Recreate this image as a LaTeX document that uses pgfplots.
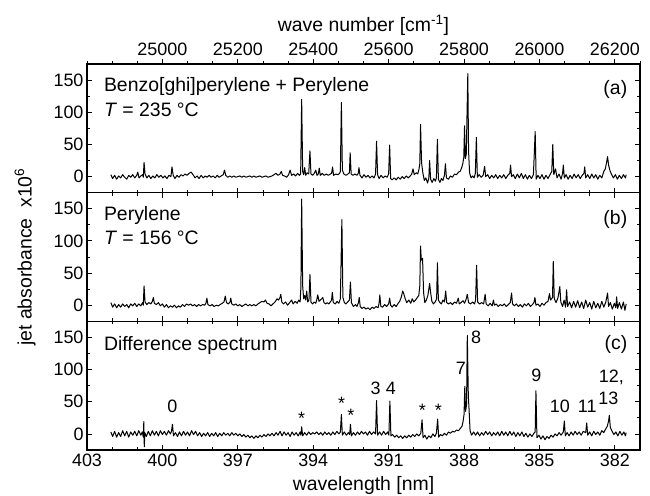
\documentclass[border=0pt]{standalone}
\usepackage{pgfplots}
\pgfplotsset{compat=1.18}
\usepackage{fontspec}
\setmainfont{Liberation Sans}

\pgfplotsset{
  panel/.style={
    scale only axis, width=553bp, height=128.7bp,
    xmin=381, xmax=403, x dir=reverse,
    ymin=-25, ymax=175,
    xtick={382,385,...,403}, minor xtick={381,...,403},
    ytick={0,50,100,150}, minor ytick={25,75,125},
    tick align=inside,
    major tick length=5bp, minor tick length=3bp,
    tick style={black, line width=0.8bp},
    axis line style={line width=1.3bp},
    /pgf/number format/assume math mode=true,
    tick label style={font=\fontsize{18}{20}\selectfont},
    label style={font=\fontsize{19.5}{22}\selectfont},
    clip=false,
  },
  spec/.style={black, line width=1bp, line join=round, mark=none},
}
\newcommand{\lab}{\fontsize{19.5}{22}\selectfont}
\newcommand{\ann}{\fontsize{18}{20}\selectfont}

\begin{document}
\begin{tikzpicture}
\useasboundingbox (0,0) rectangle (650bp,496bp);

% ---------- panel (a) ----------
\begin{axis}[panel, at={(87bp,303.3bp)}, anchor=south west,
  xticklabel=\empty, xtick pos=lower]
\addplot[spec] coordinates {
(402.05,3)(401.98,-3)(401.9,2)(401.82,-4)(401.74,1)(401.66,-2)(401.58,3)(401.5,-1)(401.42,-4)(401.34,2)(401.26,-1)(401.18,3)(401.1,-2)(401.02,2)(400.98,7)(400.93,-2)(400.86,1)(400.79,3)(400.76,-1)(400.73,22)(400.69,4)(400.62,-2)(400.54,2)(400.46,-3)(400.38,1)(400.3,-2)(400.22,3)(400.14,-1)(400.06,2)(399.98,-2)(399.9,1)(399.82,-3)(399.74,2)(399.66,0)(399.62,15)(399.57,2)(399.5,-3)(399.42,2)(399.34,-1)(399.26,3)(399.18,1)(399.1,4)(399.02,2)(398.94,5)(398.86,7)(398.78,3)(398.7,-2)(398.62,1)(398.54,-3)(398.46,2)(398.38,-2)(398.3,1)(398.22,-1)(398.14,2)(398.06,-1)(397.98,1)(397.9,-2)(397.82,2)(397.74,-1)(397.66,1)(397.58,3)(397.53,10)(397.48,2)(397.4,-1)(397.32,1)(397.24,-1)(397.16,1)(397.08,-1)(397,0)(396.92,1)(396.84,-1)(396.76,1)(396.68,-1)(396.6,0)(396.52,1)(396.44,-1)(396.36,1)(396.28,-1)(396.2,0)(396.12,1)(396.04,-1)(395.96,0)(395.88,1)(395.8,-1)(395.72,0)(395.64,1)(395.56,3)(395.48,5)(395.4,2)(395.32,4)(395.27,8)(395.22,2)(395.14,1)(395.06,-1)(394.98,3)(394.92,10)(394.86,2)(394.78,4)(394.7,1)(394.62,5)(394.55,2)(394.5,4)(394.46,120)(394.42,8)(394.38,3)(394.34,14)(394.3,2)(394.24,6)(394.18,4)(394.13,40)(394.09,4)(394.02,2)(393.96,5)(393.9,10)(393.85,2)(393.8,4)(393.76,13)(393.72,2)(393.64,5)(393.56,2)(393.48,4)(393.4,2)(393.32,4)(393.27,5)(393.23,15)(393.19,2)(393.1,4)(393.02,3)(392.95,5)(392.92,8)(392.88,115)(392.84,10)(392.78,4)(392.7,2)(392.62,4)(392.56,6)(392.53,37)(392.49,4)(392.42,2)(392.34,4)(392.26,2)(392.21,5)(392.18,14)(392.14,2)(392.06,-2)(391.98,3)(391.9,-1)(391.82,2)(391.74,-2)(391.66,1)(391.58,-2)(391.52,4)(391.48,55)(391.44,3)(391.38,-3)(391.3,2)(391.22,-2)(391.14,1)(391.06,-1)(391,4)(390.96,49)(390.92,-3)(390.86,-5)(390.78,-2)(390.7,-5)(390.62,-1)(390.54,-4)(390.46,0)(390.38,-3)(390.3,1)(390.22,-2)(390.14,1)(390.08,4)(390.03,12)(389.98,3)(389.9,6)(389.84,4)(389.79,12)(389.76,20)(389.73,81)(389.69,22)(389.64,6)(389.58,-6)(389.52,-2)(389.45,-10)(389.4,-2)(389.37,25)(389.33,-4)(389.27,-9)(389.2,-3)(389.14,-7)(389.1,-2)(389.06,58)(389.02,-4)(388.96,-9)(388.9,-3)(388.84,-6)(388.78,2)(388.74,20)(388.7,-2)(388.62,-4)(388.54,1)(388.46,-1)(388.38,4)(388.3,3)(388.22,7)(388.16,8)(388.1,13)(388.05,20)(388.01,30)(387.98,79)(387.95,28)(387.91,35)(387.88,100)(387.85,160)(387.82,40)(387.78,6)(387.72,-2)(387.66,1)(387.6,-2)(387.55,5)(387.51,61)(387.47,-1)(387.4,3)(387.32,-1)(387.24,2)(387.18,16)(387.14,0)(387.06,3)(386.98,-3)(386.9,2)(386.82,-2)(386.74,3)(386.66,-3)(386.58,2)(386.5,-2)(386.42,3)(386.34,-3)(386.26,2)(386.18,5)(386.15,18)(386.11,0)(386.04,3)(385.96,-3)(385.88,4)(385.8,-2)(385.72,5)(385.64,-3)(385.56,3)(385.48,-4)(385.4,2)(385.32,-3)(385.24,3)(385.17,70)(385.13,-4)(385.06,2)(384.98,-3)(384.9,3)(384.82,-4)(384.74,2)(384.66,-3)(384.58,3)(384.51,8)(384.47,50)(384.43,3)(384.36,12)(384.3,-2)(384.22,4)(384.14,-4)(384.08,5)(384.05,18)(384.01,-2)(383.94,3)(383.86,-4)(383.78,2)(383.7,-3)(383.62,4)(383.54,-2)(383.46,3)(383.38,-3)(383.3,2)(383.23,5)(383.2,15)(383.16,-2)(383.08,3)(383,-3)(382.92,4)(382.84,-2)(382.76,3)(382.68,-4)(382.6,2)(382.52,-2)(382.44,8)(382.38,12)(382.33,22)(382.29,31)(382.25,18)(382.2,10)(382.14,4)(382.06,-2)(381.98,3)(381.9,-4)(381.82,2)(381.74,-3)(381.66,3)(381.58,-2)(381.55,3)
};
\node[anchor=base west, inner sep=0, font=\lab] at (axis cs:402.33,132) {Benzo[ghi]perylene + Perylene};
\node[anchor=base west, inner sep=0, font=\lab] at (axis cs:402.33,94) {\textit{T} = 235 °C};
\node[anchor=base east, inner sep=0, font=\lab] at (axis cs:381.5,127) {(a)};
\end{axis}

% top wave-number axis (same geometry as panel a)
\begin{axis}[panel, at={(87bp,303.3bp)}, anchor=south west,
  hide y axis, xtick pos=upper, xticklabel pos=upper, tick align=outside,
  xtick={382,385,388,391,394,397,400},
  xticklabels={26200,26000,25800,25600,25400,25200,25000},
  xlabel={wave number [cm\textsuperscript{-1}]}]
\addplot[draw=none] coordinates {(390,0)};
\end{axis}

% ---------- panel (b) ----------
\begin{axis}[panel, at={(87bp,174.7bp)}, anchor=south west,
  xticklabel=\empty,
  ylabel={jet absorbance\ \ x10\textsuperscript{6}},
  ylabel style={at={(axis description cs:-0.112,0.5)}, anchor=center}]
\addplot[spec] coordinates {
(402.05,4)(401.98,-3)(401.9,2)(401.82,-4)(401.74,1)(401.66,-3)(401.58,2)(401.5,-2)(401.42,1)(401.34,-4)(401.26,2)(401.18,-1)(401.1,3)(401.02,-2)(400.94,2)(400.86,-1)(400.79,4)(400.76,0)(400.73,30)(400.69,5)(400.62,1)(400.54,4)(400.46,2)(400.4,6)(400.36,12)(400.32,3)(400.24,1)(400.16,4)(400.08,-1)(400,2)(399.92,-3)(399.84,1)(399.76,-4)(399.68,-1)(399.6,-3)(399.52,0)(399.44,-4)(399.36,-1)(399.28,-3)(399.2,1)(399.12,-2)(399.04,2)(398.96,0)(398.88,2)(398.8,-1)(398.72,1)(398.64,-2)(398.56,1)(398.48,-1)(398.4,1)(398.32,0)(398.27,3)(398.23,11)(398.19,1)(398.1,-1)(398.02,1)(397.94,-2)(397.86,0)(397.78,-1)(397.7,1)(397.62,3)(397.55,5)(397.5,14)(397.45,4)(397.38,2)(397.31,5)(397.28,11)(397.24,2)(397.16,0)(397.08,2)(397,-1)(396.92,1)(396.84,-2)(396.76,0)(396.68,2)(396.6,-1)(396.52,1)(396.44,-1)(396.36,1)(396.28,-1)(396.2,2)(396.12,4)(396.04,6)(395.96,5)(395.9,8)(395.84,3)(395.76,2)(395.68,-1)(395.6,2)(395.52,5)(395.44,10)(395.38,8)(395.32,12)(395.29,17)(395.25,5)(395.18,2)(395.1,5)(395.02,0)(394.94,4)(394.86,8)(394.8,2)(394.72,6)(394.64,3)(394.58,8)(394.52,5)(394.49,28)(394.46,165)(394.42,30)(394.38,10)(394.34,15)(394.3,8)(394.26,22)(394.22,5)(394.17,8)(394.13,48)(394.09,5)(394.03,2)(393.96,5)(393.9,3)(393.86,8)(393.82,16)(393.77,6)(393.72,8)(393.66,10)(393.62,12)(393.57,4)(393.5,2)(393.44,4)(393.38,2)(393.32,5)(393.27,8)(393.24,20)(393.2,4)(393.12,2)(393.05,6)(392.98,3)(392.92,10)(392.86,133)(392.82,12)(392.76,4)(392.7,2)(392.63,5)(392.56,8)(392.52,36)(392.48,4)(392.4,-2)(392.32,1)(392.26,-2)(392.2,4)(392.17,12)(392.13,-2)(392.06,-5)(391.98,-3)(391.9,-6)(391.82,-4)(391.74,-7)(391.66,-3)(391.58,-5)(391.5,-2)(391.42,-4)(391.38,3)(391.35,16)(391.31,-2)(391.24,-3)(391.16,1)(391.08,-2)(391,2)(390.96,11)(390.92,0)(390.86,-3)(390.78,1)(390.7,-2)(390.62,3)(390.56,6)(390.5,12)(390.44,22)(390.4,18)(390.34,10)(390.28,4)(390.2,8)(390.12,3)(390.06,10)(390,5)(389.93,8)(389.86,12)(389.8,15)(389.76,30)(389.73,92)(389.7,70)(389.65,73)(389.61,20)(389.56,4)(389.5,8)(389.44,15)(389.4,25)(389.37,34)(389.33,20)(389.28,6)(389.22,2)(389.15,5)(389.09,10)(389.06,66)(389.02,8)(388.96,4)(388.9,2)(388.84,8)(388.78,5)(388.73,22)(388.69,4)(388.62,2)(388.54,4)(388.46,1)(388.38,5)(388.3,3)(388.23,11)(388.19,2)(388.12,4)(388.04,7)(387.98,3)(387.92,9)(387.87,17)(387.82,4)(387.74,2)(387.66,5)(387.58,2)(387.54,8)(387.5,62)(387.46,5)(387.38,2)(387.3,4)(387.22,2)(387.16,17)(387.12,2)(387.04,-1)(386.96,3)(386.88,-1)(386.83,8)(386.79,0)(386.72,2)(386.64,-2)(386.56,1)(386.48,-1)(386.4,2)(386.32,-2)(386.24,1)(386.16,4)(386.11,19)(386.07,2)(386,-1)(385.92,2)(385.84,-2)(385.76,1)(385.68,-3)(385.6,2)(385.52,-1)(385.44,3)(385.36,-2)(385.28,1)(385.22,4)(385.18,12)(385.14,0)(385.06,2)(384.98,-2)(384.9,3)(384.82,0)(384.74,4)(384.66,6)(384.6,18)(384.56,8)(384.48,12)(384.45,68)(384.41,10)(384.34,4)(384.26,12)(384.19,29)(384.15,5)(384.08,-2)(384.02,8)(383.96,-3)(383.92,24)(383.88,-2)(383.8,5)(383.72,-4)(383.64,6)(383.56,-3)(383.48,7)(383.4,-4)(383.32,5)(383.24,-5)(383.16,8)(383.08,-3)(383,4)(382.92,-6)(382.84,6)(382.76,-4)(382.68,3)(382.6,-5)(382.52,6)(382.44,-3)(382.36,5)(382.29,19)(382.25,-2)(382.18,4)(382.1,-6)(382.02,3)(381.96,-4)(381.93,13)(381.89,-5)(381.82,4)(381.74,-6)(381.66,5)(381.6,-8)(381.55,2)
};
\node[anchor=base west, inner sep=0, font=\lab] at (axis cs:402.33,131) {Perylene};
\node[anchor=base west, inner sep=0, font=\lab] at (axis cs:402.33,95) {\textit{T} = 156 °C};
\node[anchor=base east, inner sep=0, font=\lab] at (axis cs:381.5,126) {(b)};
\end{axis}

% ---------- panel (c) ----------
\begin{axis}[panel, at={(87bp,46bp)}, anchor=south west,
  xlabel={wavelength [nm]},
  xlabel style={yshift=-3bp}]
\addplot[spec] coordinates {
(402.05,3)(401.98,-4)(401.9,4)(401.82,-5)(401.74,2)(401.66,-4)(401.58,5)(401.5,-3)(401.42,4)(401.34,-5)(401.26,3)(401.18,-2)(401.1,4)(401.02,-3)(400.94,5)(400.86,-2)(400.8,3)(400.76,-5)(400.74,19)(400.72,-20)(400.7,2)(400.64,-4)(400.56,4)(400.48,-3)(400.4,5)(400.32,-2)(400.24,4)(400.16,-3)(400.08,5)(400,-1)(399.92,4)(399.84,-2)(399.76,5)(399.68,0)(399.64,4)(399.6,15)(399.56,-3)(399.48,2)(399.4,-4)(399.32,3)(399.24,-3)(399.16,4)(399.08,-2)(399,3)(398.92,-3)(398.84,5)(398.76,-1)(398.68,4)(398.6,-3)(398.52,2)(398.44,-4)(398.36,1)(398.28,-3)(398.2,2)(398.12,-4)(398.04,1)(397.96,-3)(397.88,2)(397.8,-4)(397.72,1)(397.64,-3)(397.56,2)(397.48,-2)(397.4,1)(397.32,-3)(397.24,2)(397.16,-2)(397.08,1)(397,-3)(396.92,0)(396.84,-4)(396.76,-1)(396.68,-5)(396.6,-2)(396.52,-6)(396.44,-3)(396.36,-7)(396.28,-3)(396.2,-6)(396.12,-2)(396.04,-5)(395.96,-1)(395.88,-4)(395.8,0)(395.72,-3)(395.64,1)(395.56,-3)(395.48,2)(395.4,-2)(395.32,4)(395.24,-3)(395.16,3)(395.08,-2)(395,2)(394.92,-4)(394.84,3)(394.76,-2)(394.68,2)(394.6,-3)(394.52,3)(394.49,-2)(394.46,11)(394.42,-3)(394.34,2)(394.26,-2)(394.18,3)(394.1,-1)(394.02,2)(393.94,0)(393.86,3)(393.78,-1)(393.7,2)(393.62,-2)(393.54,3)(393.46,-1)(393.38,2)(393.3,-2)(393.22,3)(393.14,-1)(393.06,4)(392.98,0)(392.92,3)(392.88,30)(392.84,-2)(392.76,3)(392.68,-2)(392.6,2)(392.55,-1)(392.52,15)(392.48,-3)(392.4,2)(392.32,-2)(392.24,3)(392.16,-1)(392.08,4)(392,0)(391.92,3)(391.84,-2)(391.76,4)(391.68,-1)(391.6,3)(391.52,0)(391.48,52)(391.44,-2)(391.36,3)(391.28,-2)(391.2,4)(391.12,-1)(391.04,3)(390.99,-2)(390.95,51)(390.91,-3)(390.84,-1)(390.76,-5)(390.68,-2)(390.6,-6)(390.52,-3)(390.44,-7)(390.36,-3)(390.28,-6)(390.2,-2)(390.12,-5)(390.04,-1)(389.96,-4)(389.88,0)(389.8,-3)(389.72,1)(389.67,22)(389.63,-6)(389.56,-2)(389.48,-8)(389.4,-3)(389.32,-6)(389.24,0)(389.16,-4)(389.1,1)(389.05,23)(389.01,-5)(388.94,-1)(388.86,-3)(388.78,1)(388.7,-2)(388.62,3)(388.54,1)(388.46,4)(388.38,3)(388.3,6)(388.22,5)(388.14,9)(388.08,12)(388.04,19)(388.0,30)(387.97,74)(387.94,35)(387.9,45)(387.87,153)(387.83,60)(387.79,30)(387.76,5)(387.7,-2)(387.62,3)(387.54,-2)(387.46,3)(387.38,-3)(387.3,2)(387.22,-2)(387.14,4)(387.06,-1)(386.98,3)(386.9,-3)(386.82,2)(386.74,-2)(386.66,3)(386.58,-3)(386.5,4)(386.42,-2)(386.34,3)(386.26,-3)(386.18,4)(386.1,-2)(386.02,3)(385.94,-4)(385.86,2)(385.78,-3)(385.7,3)(385.62,-4)(385.54,1)(385.46,-5)(385.38,0)(385.3,-4)(385.22,1)(385.17,3)(385.14,67)(385.1,-6)(385.02,-2)(384.94,-8)(384.86,-3)(384.78,-9)(384.7,-4)(384.62,-7)(384.54,-2)(384.46,-5)(384.38,0)(384.3,-3)(384.22,2)(384.14,-2)(384.05,3)(384.01,20)(383.97,-3)(383.9,2)(383.82,-3)(383.74,3)(383.66,-2)(383.58,4)(383.5,-1)(383.42,3)(383.34,-2)(383.26,4)(383.16,2)(383.12,17)(383.08,-2)(383,3)(382.92,-3)(382.84,4)(382.76,-1)(382.68,3)(382.6,-2)(382.52,5)(382.44,2)(382.36,8)(382.3,12)(382.25,20)(382.22,29)(382.18,10)(382.12,5)(382.04,-1)(381.96,3)(381.88,-3)(381.8,4)(381.72,-2)(381.64,3)(381.58,-3)(381.55,2)
};
\node[anchor=base west, inner sep=0, font=\lab] at (axis cs:402.33,129) {Difference spectrum};
\node[anchor=base east, inner sep=0, font=\lab] at (axis cs:381.5,131.5) {(c)};
% peak labels
\node[anchor=base, inner sep=0, font=\ann] at (axis cs:399.6,33) {0};
\node[anchor=base, inner sep=0, font=\ann] at (axis cs:394.46,15) {*};
\node[anchor=base, inner sep=0, font=\ann] at (axis cs:392.87,38) {*};
\node[anchor=base, inner sep=0, font=\ann] at (axis cs:392.5,19) {*};
\node[anchor=base, inner sep=0, font=\ann] at (axis cs:391.52,62) {3};
\node[anchor=base, inner sep=0, font=\ann] at (axis cs:390.91,62) {4};
\node[anchor=base, inner sep=0, font=\ann] at (axis cs:389.66,27) {*};
\node[anchor=base, inner sep=0, font=\ann] at (axis cs:389.02,27) {*};
\node[anchor=base, inner sep=0, font=\ann] at (axis cs:388.13,93) {7};
\node[anchor=base, inner sep=0, font=\ann] at (axis cs:387.52,140) {8};
\node[anchor=base, inner sep=0, font=\ann] at (axis cs:385.12,82) {9};
\node[anchor=base, inner sep=0, font=\ann] at (axis cs:384.19,33) {10};
\node[anchor=base, inner sep=0, font=\ann] at (axis cs:383.1,33) {11};
\node[anchor=base west, inner sep=0, font=\ann] at (axis cs:382.64,80) {12,};
\node[anchor=base west, inner sep=0, font=\ann] at (axis cs:382.66,46) {13};
\end{axis}
\end{tikzpicture}
\end{document}
